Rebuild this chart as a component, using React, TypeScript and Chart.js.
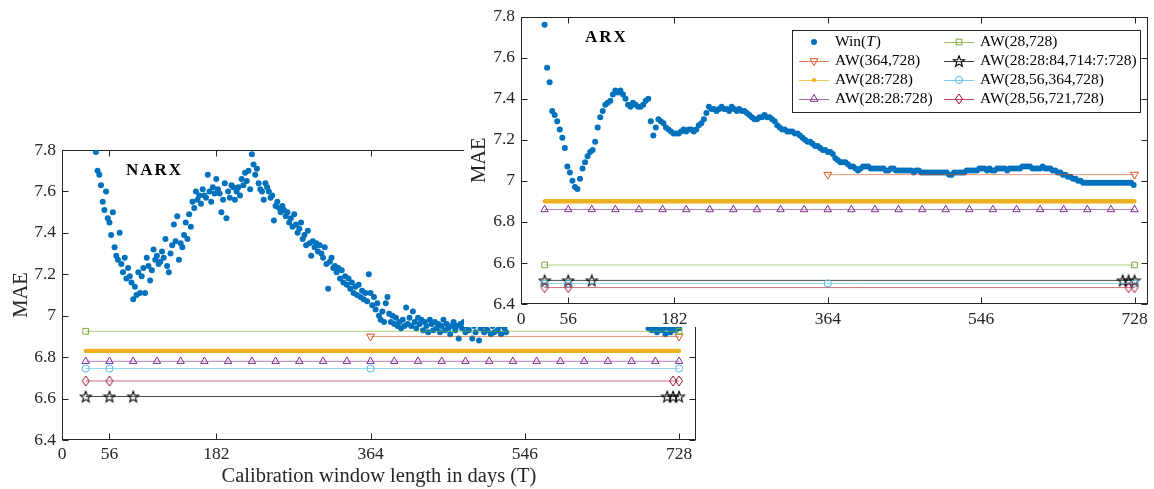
import React, { useEffect, useRef } from 'react';
import { Chart, registerables } from 'chart.js';

Chart.register(...registerables);

function range(a: number, b: number, step: number): number[] {
  const r: number[] = [];
  for (let v = a; v <= b; v += step) r.push(v);
  return r;
}

// ---------- data ----------
const X_TICKS = [0, 56, 182, 364, 546, 728];
const Y_TICKS = [6.4, 6.6, 6.8, 7.0, 7.2, 7.4, 7.6, 7.8];

// calibration window lengths (days) at which Win(T) is shown
const NARX_DAYS = range(28, 728, 2);
const NARX_WIN = [
  8.05, 7.97, 7.92, 7.88, 7.85, 7.82, 7.79, 7.70, 7.68, 7.63,
  7.55, 7.51, 7.60, 7.47, 7.45, 7.39, 7.50, 7.33, 7.29, 7.27,
  7.40, 7.25, 7.21, 7.28, 7.18, 7.23, 7.19, 7.16, 7.08, 7.14,
  7.10, 7.21, 7.11, 7.19, 7.23, 7.11, 7.28, 7.24, 7.17, 7.22,
  7.32, 7.27, 7.29, 7.25, 7.26, 7.31, 7.28, 7.37, 7.24, 7.21,
  7.30, 7.34, 7.44, 7.36, 7.48, 7.27, 7.35, 7.33, 7.39, 7.45,
  7.37, 7.49, 7.43, 7.55, 7.52, 7.60, 7.56, 7.58, 7.54, 7.61,
  7.58, 7.57, 7.68, 7.60, 7.55, 7.62, 7.59, 7.66, 7.61, 7.59,
  7.50, 7.56, 7.64, 7.47, 7.60, 7.57, 7.63, 7.62, 7.56, 7.60,
  7.62, 7.58, 7.66, 7.63, 7.69, 7.65, 7.70, 7.61, 7.78, 7.73,
  7.68, 7.71, 7.64, 7.61, 7.60, 7.56, 7.64, 7.62, 7.60, 7.57,
  7.58, 7.46, 7.53, 7.55, 7.52, 7.50, 7.53, 7.51, 7.48, 7.50,
  7.45, 7.47, 7.43, 7.49, 7.44, 7.40, 7.42, 7.45, 7.37, 7.39,
  7.34, 7.41, 7.35, 7.29, 7.36, 7.33, 7.35, 7.31, 7.34, 7.30,
  7.28, 7.33, 7.25, 7.13, 7.26, 7.28, 7.23, 7.24, 7.21, 7.23,
  7.18, 7.22, 7.16, 7.19, 7.15, 7.18, 7.13, 7.16, 7.11, 7.14,
  7.10, 7.15, 7.09, 7.12, 7.08, 7.11, 7.07, 7.20, 7.11, 7.05,
  7.09, 7.03, 7.06, 7.00, 6.98, 7.02, 6.97, 7.06, 7.09, 7.01,
  6.97, 7.00, 6.96, 6.99, 6.95, 6.97, 6.94, 6.98, 6.95, 7.04,
  6.96, 6.99, 6.95, 7.02, 6.97, 6.94, 6.99, 6.96, 6.98, 6.93,
  6.97, 6.95, 6.92, 6.98, 6.96, 6.93, 6.97, 6.94, 6.96, 6.92,
  6.95, 6.98, 6.93, 6.96, 6.94, 6.91, 6.95, 6.97, 6.93, 6.95,
  6.89, 6.96, 6.94, 6.97, 6.92, 6.95, 6.93, 6.96, 6.89, 6.95,
  6.92, 6.96, 6.88, 6.94, 6.96, 6.92, 6.95, 6.93, 6.96, 6.91,
  6.95, 6.92, 6.96, 6.93, 6.95, 6.91, 6.96, 6.94, 6.92, 6.96,
  6.97, 6.98, 6.97, 6.99, 6.98, 6.97, 6.99, 6.98, 7.00, 6.98,
  6.99, 6.97, 6.98, 7.00, 6.98, 6.97, 6.99, 6.98, 6.97, 6.99,
  6.98, 7.00, 6.98, 6.97, 6.99, 6.98, 6.97, 6.98, 6.99, 6.97,
  6.98, 6.99, 6.97, 6.98, 7.00, 6.98, 6.97, 6.99, 6.98, 6.97,
  6.98, 6.99, 6.97, 6.98, 6.97, 6.99, 6.98, 6.97, 6.98, 6.97,
  6.99, 6.98, 6.97, 6.98, 6.97, 6.98, 6.99, 6.97, 6.98, 6.97,
  6.98, 6.97, 6.98, 6.97, 6.98, 6.97, 6.99, 6.97, 6.98, 6.97,
  6.98, 6.97, 6.97, 6.98, 6.97, 6.97, 6.98, 6.97, 6.97, 6.98,
  6.97, 6.96, 6.94, 6.95, 6.93, 6.94, 6.95, 6.92, 6.94, 6.95,
  6.93, 6.94, 6.91, 6.95, 6.94, 6.92, 6.95, 6.94, 6.93, 6.95,
  6.94,
];

const ARX_DAYS = range(28, 727, 3);
const ARX_WIN = [
  7.76, 7.55, 7.48, 7.34, 7.32, 7.29, 7.25, 7.21, 7.16, 7.07,
  7.04, 7.00, 6.97, 6.96, 7.01, 7.06, 7.09, 7.12, 7.14, 7.15,
  7.19, 7.26, 7.31, 7.34, 7.37, 7.38, 7.39, 7.42, 7.44, 7.43,
  7.44, 7.42, 7.40, 7.37, 7.36, 7.38, 7.37, 7.36, 7.36, 7.37,
  7.39, 7.40, 7.29, 7.22, 7.26, 7.30, 7.29, 7.28, 7.26, 7.25,
  7.24, 7.23, 7.23, 7.23, 7.24, 7.25, 7.24, 7.25, 7.25, 7.24,
  7.25, 7.27, 7.28, 7.30, 7.33, 7.36, 7.35, 7.35, 7.34, 7.35,
  7.36, 7.35, 7.35, 7.34, 7.36, 7.35, 7.34, 7.35, 7.34, 7.34,
  7.33, 7.32, 7.31, 7.30, 7.30, 7.31, 7.31, 7.32, 7.31, 7.31,
  7.30, 7.29, 7.27, 7.26, 7.25, 7.25, 7.24, 7.24, 7.24, 7.23,
  7.23, 7.22, 7.21, 7.20, 7.19, 7.19, 7.18, 7.17, 7.17, 7.16,
  7.15, 7.15, 7.14, 7.14, 7.13, 7.11, 7.10, 7.09, 7.09, 7.09,
  7.08, 7.07, 7.07, 7.06, 7.05, 7.06, 7.07, 7.07, 7.07, 7.06,
  7.06, 7.06, 7.06, 7.06, 7.06, 7.05, 7.05, 7.06, 7.06, 7.05,
  7.05, 7.05, 7.05, 7.05, 7.05, 7.05, 7.04, 7.05, 7.05, 7.04,
  7.04, 7.04, 7.04, 7.04, 7.04, 7.04, 7.04, 7.04, 7.04, 7.04,
  7.03, 7.03, 7.04, 7.04, 7.04, 7.04, 7.04, 7.05, 7.05, 7.05,
  7.05, 7.05, 7.06, 7.06, 7.06, 7.05, 7.06, 7.05, 7.05, 7.06,
  7.06, 7.06, 7.06, 7.05, 7.06, 7.06, 7.06, 7.06, 7.06, 7.07,
  7.07, 7.07, 7.07, 7.06, 7.06, 7.06, 7.06, 7.07, 7.06, 7.06,
  7.06, 7.05, 7.05, 7.04, 7.04, 7.03, 7.03, 7.02, 7.02, 7.01,
  7.01, 7.00, 7.00, 6.99, 6.99, 6.99, 6.99, 6.99, 6.99, 6.99,
  6.99, 6.99, 6.99, 6.99, 6.99, 6.99, 6.99, 6.99, 6.99, 6.99,
  6.99, 6.99, 6.99, 6.98,
];

const AW_LABELS = [
  'AW(364,728)',
  'AW(28:728)',
  'AW(28:28:728)',
  'AW(28,728)',
  'AW(28:28:84,714:7:728)',
  'AW(28,56,364,728)',
  'AW(28,56,721,728)',
];
// window lengths combined in each averaging scheme (marker positions)
const AW_DAYS = [
  [364, 728],
  range(28, 728, 1),
  range(28, 728, 28),
  [28, 728],
  [28, 56, 84, 714, 721, 728],
  [28, 56, 364, 728],
  [28, 56, 721, 728],
];
const NARX_AW = [6.90, 6.83, 6.78, 6.925, 6.61, 6.745, 6.685];
const ARX_AW = [7.03, 6.90, 6.86, 6.59, 6.515, 6.50, 6.48];

// ---------- styles ----------
const SERIF = "'Liberation Serif', 'Times New Roman', serif";
const AXIS_COLOR = '#262626';
const WIN_COLOR = '#0072BD';
const AW_COLORS = ['#D95319', '#EDB120', '#7E2F8E', '#77AC30', '#000000', '#4DBEEE', '#A2142F'];
const AW_MARKERS = ['triangleDown', 'dot', 'triangle', 'rect', 'star', 'circle', 'diamond'];
const TICK_FONT = 17.5;
const TITLE_FONT = 20.5;

function withAlpha(hex: string, a: number) {
  const n = parseInt(hex.slice(1), 16);
  return `rgba(${(n >> 16) & 255},${(n >> 8) & 255},${n & 255},${a})`;
}

function makeStar(color: string) {
  const s = 14;
  const c = document.createElement('canvas');
  c.width = s; c.height = s;
  const g = c.getContext('2d')!;
  const cx = s / 2, cy = s / 2 + 0.6, R = 5.8, r = R * 0.42;
  g.beginPath();
  for (let i = 0; i < 10; i++) {
    const ang = -Math.PI / 2 + (i * Math.PI) / 5;
    const rad = i % 2 === 0 ? R : r;
    const px = cx + rad * Math.cos(ang), py = cy + rad * Math.sin(ang);
    if (i === 0) g.moveTo(px, py); else g.lineTo(px, py);
  }
  g.closePath();
  g.strokeStyle = color; g.lineWidth = 1.1; g.stroke();
  return c;
}

function makeDiamond(color: string) {
  const w = 10, h = 12;
  const c = document.createElement('canvas');
  c.width = w; c.height = h;
  const g = c.getContext('2d')!;
  g.beginPath();
  g.moveTo(w / 2, 1); g.lineTo(w - 1.5, h / 2); g.lineTo(w / 2, h - 1); g.lineTo(1.5, h / 2);
  g.closePath();
  g.strokeStyle = color; g.lineWidth = 1; g.stroke();
  return c;
}

function markerProps(kind: string, color: string, imgs: Record<string, HTMLCanvasElement>) {
  const base: any = { pointBorderColor: color, pointBackgroundColor: 'rgba(0,0,0,0)', pointBorderWidth: 1 };
  switch (kind) {
    case 'triangleDown': return { ...base, pointStyle: 'triangle', pointRotation: 180, pointRadius: 4.6 };
    case 'triangle': return { ...base, pointStyle: 'triangle', pointRadius: 4.3 };
    case 'dot': return { ...base, pointStyle: 'circle', pointRadius: 2.1, pointBackgroundColor: color, pointBorderWidth: 0 };
    case 'rect': return { ...base, pointStyle: 'rect', pointRadius: 4 };
    case 'circle': return { ...base, pointStyle: 'circle', pointRadius: 3.6 };
    case 'star': return { ...base, pointStyle: imgs.star, pointRadius: 5 };
    case 'diamond': return { ...base, pointStyle: imgs.diamond, pointRadius: 5 };
  }
  return base;
}

function buildDatasets(days: number[], win: number[], aw: number[], imgs: Record<string, HTMLCanvasElement>) {
  const ds: any[] = [{
    label: 'Win(T)',
    data: days.map((d, i) => ({ x: d, y: win[i] })),
    showLine: false,
    pointStyle: 'circle',
    pointRadius: 3,
    pointBackgroundColor: WIN_COLOR,
    pointBorderWidth: 0,
    order: 20,
  }];
  AW_LABELS.forEach((label, k) => {
    ds.push({
      label,
      data: AW_DAYS[k].map((d) => ({ x: d, y: aw[k] })),
      showLine: true,
      borderColor: withAlpha(AW_COLORS[k], k === 4 ? 0.7 : 0.6),
      borderWidth: 1,
      ...markerProps(AW_MARKERS[k], AW_COLORS[k], imgs),
      order: 10 - k,
    });
  });
  return ds;
}

// ---------- plugins ----------
const boxPlugin = {
  id: 'matlabBox',
  beforeDatasetsDraw(chart: any) {
    const { ctx, chartArea: a, scales } = chart;
    const x = scales.x, y = scales.y;
    ctx.save();
    ctx.strokeStyle = AXIS_COLOR;
    ctx.lineWidth = 1;
    const L = Math.round(a.left) + 0.5, R = Math.round(a.right) - 0.5;
    const T = Math.round(a.top) + 0.5, B = Math.round(a.bottom) - 0.5;
    ctx.strokeRect(L, T, R - L, B - T);
    const tl = 6;
    ctx.beginPath();
    X_TICKS.forEach((v) => {
      const px = Math.round(x.getPixelForValue(v)) + 0.5;
      ctx.moveTo(px, B); ctx.lineTo(px, B - tl);
      ctx.moveTo(px, T); ctx.lineTo(px, T + tl);
    });
    Y_TICKS.forEach((v) => {
      const py = Math.round(y.getPixelForValue(v)) + 0.5;
      ctx.moveTo(L, py); ctx.lineTo(L + tl, py);
      ctx.moveTo(R, py); ctx.lineTo(R - tl, py);
    });
    ctx.stroke();
    ctx.restore();
  },
  afterDatasetsDraw(chart: any, _args: any, opts: any) {
    if (!opts || !opts.label) return;
    const { ctx, chartArea: a } = chart;
    ctx.save();
    ctx.fillStyle = '#000';
    ctx.font = `bold 17px ${SERIF}`;
    (ctx as any).letterSpacing = '2px';
    ctx.textAlign = 'left';
    ctx.textBaseline = 'middle';
    ctx.fillText(opts.label, a.left + 64, a.top + 21);
    ctx.restore();
  },
};

function drawLegendMarker(ctx: CanvasRenderingContext2D, kind: string, color: string, x: number, y: number, imgs: Record<string, HTMLCanvasElement>) {
  ctx.save();
  ctx.strokeStyle = color;
  ctx.fillStyle = color;
  ctx.lineWidth = 1;
  const tri = (r: number, rot: number) => {
    ctx.beginPath();
    for (let i = 0; i < 3; i++) {
      const ang = rot + (i * 2 * Math.PI) / 3;
      const px = x + Math.sin(ang) * r, py = y - Math.cos(ang) * r;
      if (i === 0) ctx.moveTo(px, py); else ctx.lineTo(px, py);
    }
    ctx.closePath();
    ctx.stroke();
  };
  switch (kind) {
    case 'win': ctx.beginPath(); ctx.arc(x, y, 3, 0, Math.PI * 2); ctx.fill(); break;
    case 'dot': ctx.beginPath(); ctx.arc(x, y, 2.1, 0, Math.PI * 2); ctx.fill(); break;
    case 'triangleDown': tri(4.6, Math.PI); break;
    case 'triangle': tri(4.6, 0); break;
    case 'rect': { const s = 4 * Math.SQRT1_2; ctx.strokeRect(x - s, y - s, 2 * s, 2 * s); break; }
    case 'circle': ctx.beginPath(); ctx.arc(x, y, 3.6, 0, Math.PI * 2); ctx.stroke(); break;
    case 'star': ctx.drawImage(imgs.star, x - imgs.star.width / 2, y - imgs.star.height / 2); break;
    case 'diamond': ctx.drawImage(imgs.diamond, x - imgs.diamond.width / 2, y - imgs.diamond.height / 2); break;
  }
  ctx.restore();
}

const legendPlugin = {
  id: 'awLegend',
  afterDraw(chart: any, _args: any, opts: any) {
    if (!opts || !opts.show) return;
    const { ctx, chartArea: a } = chart;
    const imgs = opts.imgs;
    const boxR = a.right - 8, boxL = boxR - 348, boxT = a.top + 13, boxH = 82;
    ctx.save();
    ctx.fillStyle = '#fff';
    ctx.fillRect(boxL, boxT, boxR - boxL, boxH);
    ctx.strokeStyle = AXIS_COLOR;
    ctx.lineWidth = 1;
    ctx.strokeRect(Math.round(boxL) + 0.5, Math.round(boxT) + 0.5, Math.round(boxR - boxL), boxH);
    const entries = [
      { label: 'Win(T)', kind: 'win', color: WIN_COLOR, line: null as string | null },
      ...AW_LABELS.map((l, k) => ({ label: l, kind: AW_MARKERS[k], color: AW_COLORS[k], line: withAlpha(AW_COLORS[k], 0.75) })),
    ];
    const font = `15.5px ${SERIF}`;
    const italic = `italic 15.5px ${SERIF}`;
    entries.forEach((e, i) => {
      const col = Math.floor(i / 4), row = i % 4;
      const cy = boxT + 12.5 + row * 19;
      const x0 = boxL + 7 + col * 145;
      if (e.line) {
        ctx.strokeStyle = e.line;
        ctx.lineWidth = 1;
        ctx.beginPath();
        ctx.moveTo(x0, Math.round(cy) + 0.5);
        ctx.lineTo(x0 + 30, Math.round(cy) + 0.5);
        ctx.stroke();
      }
      drawLegendMarker(ctx, e.kind, e.color, x0 + 15, cy, imgs);
      ctx.fillStyle = '#000';
      ctx.textBaseline = 'middle';
      ctx.textAlign = 'left';
      let tx = x0 + 36;
      if (e.label === 'Win(T)') {
        ctx.font = font; ctx.fillText('Win(', tx, cy); tx += ctx.measureText('Win(').width;
        ctx.font = italic; ctx.fillText('T', tx, cy); tx += ctx.measureText('T').width + 1;
        ctx.font = font; ctx.fillText(')', tx, cy);
      } else {
        ctx.font = font;
        ctx.fillText(e.label, tx, cy);
      }
    });
    ctx.restore();
  },
};

function makeConfig(opts: {
  days: number[]; win: number[]; aw: number[]; imgs: Record<string, HTMLCanvasElement>;
  xMax: number; padding: any; yWidth: number; xHeight: number; xPad: number; yTitlePad: number;
  xTitle: string | null; label: string; legend: boolean;
}): any {
  return {
    type: 'scatter',
    data: { datasets: buildDatasets(opts.days, opts.win, opts.aw, opts.imgs) },
    plugins: [boxPlugin, legendPlugin],
    options: {
      responsive: false,
      animation: false,
      events: [],
      layout: { padding: opts.padding },
      plugins: {
        legend: { display: false },
        tooltip: { enabled: false },
        matlabBox: { label: opts.label },
        awLegend: { show: opts.legend, imgs: opts.imgs },
      },
      scales: {
        x: {
          type: 'linear',
          min: 0,
          max: opts.xMax,
          afterBuildTicks: (s: any) => { s.ticks = X_TICKS.map((v) => ({ value: v })); },
          afterFit: (s: any) => { s.height = opts.xHeight; },
          grid: { display: false, drawTicks: false },
          border: { display: false },
          ticks: {
            autoSkip: false, maxRotation: 0, padding: opts.xPad,
            color: AXIS_COLOR, font: { family: SERIF, size: TICK_FONT },
            callback: (v: number) => String(v),
          },
          title: opts.xTitle
            ? { display: true, text: opts.xTitle, color: AXIS_COLOR, font: { family: SERIF, size: TITLE_FONT }, padding: { top: 0, bottom: 0 } }
            : { display: false },
        },
        y: {
          type: 'linear',
          min: 6.4,
          max: 7.8,
          afterBuildTicks: (s: any) => { s.ticks = Y_TICKS.map((v) => ({ value: v })); },
          afterFit: (s: any) => { s.width = opts.yWidth; },
          grid: { display: false, drawTicks: false },
          border: { display: false },
          ticks: {
            autoSkip: false, padding: 6,
            color: AXIS_COLOR, font: { family: SERIF, size: TICK_FONT },
            callback: (v: number) => String(Math.round(v * 10) / 10),
          },
          title: { display: true, text: 'MAE', color: AXIS_COLOR, font: { family: SERIF, size: TITLE_FONT }, padding: { top: opts.yTitlePad, bottom: 0 } },
        },
      },
    },
  };
}

export default function App() {
  const narxRef = useRef<HTMLCanvasElement>(null);
  const arxRef = useRef<HTMLCanvasElement>(null);

  useEffect(() => {
    const imgs = { star: makeStar('#000000'), diamond: makeDiamond(AW_COLORS[6]) };
    const narx = new Chart(narxRef.current!, makeConfig({
      days: NARX_DAYS, win: NARX_WIN, aw: NARX_AW, imgs,
      xMax: 748, padding: { left: 0, right: 1154 - 696, top: 150, bottom: 0 },
      yWidth: 62, xHeight: 49, xPad: 4, yTitlePad: 9,
      xTitle: 'Calibration window length in days (T)', label: 'NARX', legend: false,
    }));
    const arx = new Chart(arxRef.current!, makeConfig({
      days: ARX_DAYS, win: ARX_WIN, aw: ARX_AW, imgs,
      xMax: 744, padding: { left: 0, right: 5, top: 15, bottom: 0 },
      yWidth: 57, xHeight: 23, xPad: 5, yTitlePad: 3,
      xTitle: null, label: 'ARX', legend: true,
    }));
    return () => { narx.destroy(); arx.destroy(); };
  }, []);

  return (
    <div style={{ position: 'absolute', left: 0, top: 0, width: 1154, height: 489, background: '#fff', overflow: 'hidden' }}>
      <canvas ref={narxRef} width={1154} height={489} style={{ position: 'absolute', left: 0, top: 0, width: 1154, height: 489 }} />
      <canvas ref={arxRef} width={690} height={327} style={{ position: 'absolute', left: 464, top: 0, width: 690, height: 327, background: '#fff' }} />
    </div>
  );
}
